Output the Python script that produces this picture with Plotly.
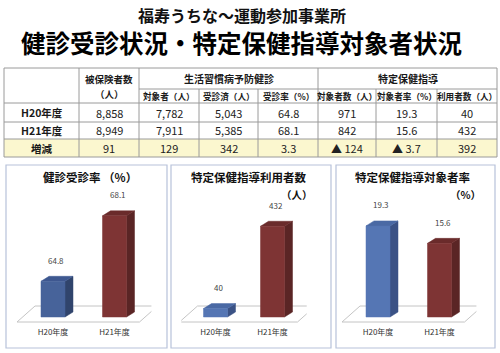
import plotly.graph_objects as go

# ---------------- data ----------------
main_title_1 = "福寿うちな～運動参加事業所"
main_title_2 = "健診受診状況・特定保健指導対象者状況"

row_labels = ["H20年度", "H21年度", "増減"]
insured = ["8,858", "8,949", "91"]
lifestyle_target = ["7,782", "7,911", "129"]
lifestyle_exam = ["5,043", "5,385", "342"]
lifestyle_rate = ["64.8", "68.1", "3.3"]
guidance_target = ["971", "842", "▲ 124"]
guidance_rate = ["19.3", "15.6", "▲ 3.7"]
guidance_users = ["40", "432", "392"]

group_headers = ["生活習慣病予防健診", "特定保健指導"]
sub_headers = ["対象者（人）", "受診済（人）", "受診率（%）",
               "対象者数（人）", "対象者率（%）", "利用者数（人）"]

categories = ["H20年度", "H21年度"]
exam_rate = [64.8, 68.1]
users_count = [40, 432]
target_rate = [19.3, 15.6]

chart_titles = ["健診受診率 （%）", "特定保健指導利用者数", "特定保健指導対象者率"]
chart_units = ["", "（人）", "（%）"]

# ---------------- helpers ----------------
W, H = 500, 353
FONT = "Noto Sans CJK JP"


def px(x):
    return x / W


def py(y):
    return 1 - y / H


fig = go.Figure()
shapes = []
ann = []


def text(x, y, s, size, bold=False, color="#1a1a1a", xanchor="center"):
    ann.append(dict(x=px(x), y=py(y), xref="paper", yref="paper",
                    text=f"<b>{s}</b>" if bold else s, showarrow=False,
                    xanchor=xanchor, yanchor="middle",
                    font=dict(family=FONT, size=size, color=color)))


# ---------------- main titles ----------------
text(242, 15, main_title_1, 16, bold=True, color="#111")
text(241, 42, main_title_2, 24.5, bold=True, color="#000")

# ---------------- table ----------------
cols = [4, 79, 139, 199, 258, 318, 376, 437, 497]
top, sub, hdr_bot, r1, r2, bot = 68, 89, 103, 122, 139, 157
line_c = "#9a9a9a"

shapes.append(dict(type="rect", xref="paper", yref="paper", layer="below",
                   x0=px(cols[0]), x1=px(cols[-1]), y0=py(r2), y1=py(bot),
                   fillcolor="#fbf7cf", line=dict(width=0)))


def hline(y, x0, x1):
    shapes.append(dict(type="line", xref="paper", yref="paper",
                       x0=px(x0), x1=px(x1), y0=py(y), y1=py(y),
                       line=dict(color=line_c, width=1)))


def vline(x, y0, y1):
    shapes.append(dict(type="line", xref="paper", yref="paper",
                       x0=px(x), x1=px(x), y0=py(y0), y1=py(y1),
                       line=dict(color=line_c, width=1)))


for y in [top, hdr_bot, r1, r2, bot]:
    hline(y, cols[0], cols[-1])
hline(sub, cols[2], cols[-1])
for x in [cols[0], cols[1], cols[2], cols[5], cols[-1]]:
    vline(x, top, bot)
for x in [cols[3], cols[4], cols[6], cols[7]]:
    vline(x, sub, bot)

centers = [(cols[i] + cols[i + 1]) / 2 for i in range(8)]
text(centers[1], 79, "被保険者数", 9.5, bold=True)
text(centers[1], 94, "（人）", 9.5, bold=True)
text((cols[2] + cols[5]) / 2, 78, group_headers[0], 10, bold=True)
text((cols[5] + cols[8]) / 2, 78, group_headers[1], 10, bold=True)
for i, s in enumerate(sub_headers):
    text(centers[i + 2], 96, s, 8.6, bold=True)

row_y = [112.5, 130.5, 148]
columns = [insured, lifestyle_target, lifestyle_exam, lifestyle_rate,
           guidance_target, guidance_rate, guidance_users]
for r, lab in enumerate(row_labels):
    text(centers[0], row_y[r], lab, 10.5, bold=True)
    for c, colvals in enumerate(columns):
        text(centers[c + 1], row_y[r], colvals[r], 11, color="#222")

# ---------------- chart panels ----------------
panels = [(6, 167), (171, 331), (336, 495)]
for x0, x1 in panels:
    shapes.append(dict(type="rect", xref="paper", yref="paper",
                       x0=px(x0), x1=px(x1), y0=py(165), y1=py(348),
                       line=dict(color="#b7c2da", width=1.2),
                       fillcolor="rgba(0,0,0,0)"))

text(90, 177, f"{chart_titles[0]}", 11.5, bold=True, color="#111")
text(248, 177, chart_titles[1], 11.5, bold=True, color="#111")
text(297, 194, chart_units[1], 10.5, bold=True, color="#111")
text(412, 177, chart_titles[2], 11.5, bold=True, color="#111")
text(465, 194, chart_units[2], 10.5, bold=True, color="#111")

blue1 = ("#47639a", "#30446c", "#3e5890")
blue2 = ("#5576b4", "#3b5285", "#4a69a4")
red = ("#7e3434", "#5a2525", "#6a2b2b")

charts = [
    dict(vals=exam_rate, lo=63, hi=69, hipx=198, c=(53, 114.5), blue=blue1),
    dict(vals=users_count, lo=0, hi=500, hipx=212, c=(215.5, 272.5), blue=blue2),
    dict(vals=target_rate, lo=0, hi=25, hipx=199, c=(378, 439.5), blue=blue2),
]

DOM_TOP, DOM_BOT, BASE_PX = 185, 326, 317
layout_axes = {}
for i, ch in enumerate(charts):
    n = "" if i == 0 else str(i + 1)
    c0, c1 = ch["c"]
    u = c1 - c0
    s = (BASE_PX - ch["hipx"]) / (ch["hi"] - ch["lo"])
    lo = ch["lo"]
    yr = [lo - (DOM_BOT - BASE_PX) / s, lo + (BASE_PX - DOM_TOP) / s]
    layout_axes["xaxis" + n] = dict(
        domain=[px(c0 - 0.6 * u), px(c1 + 0.6 * u)], range=[-0.6, 1.6],
        anchor="y" + n, tickvals=[0, 1], ticktext=categories,
        tickfont=dict(family=FONT, size=8, color="#333"),
        showgrid=False, zeroline=False, showline=False, ticks="",
        fixedrange=True)
    layout_axes["yaxis" + n] = dict(
        domain=[py(DOM_BOT), py(DOM_TOP)], range=yr, anchor="x" + n,
        visible=False, fixedrange=True)
    xa, ya = "x" + n, "y" + n

    # floor
    fy0 = lo - 5 / s
    fy1 = lo + 11 / s
    fx = [-36 / u, 1 + 25 / u, 1 + 43 / u, -18 / u, -36 / u]
    fig.add_trace(go.Scatter(x=fx, y=[fy0, fy0, fy1, fy1, fy0], xaxis=xa, yaxis=ya,
                             mode="lines", fill="toself", fillcolor="white",
                             line=dict(color="#c4c4c4", width=1),
                             hoverinfo="skip", showlegend=False))
    w = 12 / u
    ddx = 8 / u
    ddy = 5 / s
    for k, v in enumerate(ch["vals"]):
        front, side, topc = ch["blue"] if k == 0 else red
        xs_side = [k + w, k + w + ddx, k + w + ddx, k + w, k + w]
        ys_side = [lo, lo + ddy, v + ddy, v, lo]
        xs_top = [k - w, k - w + ddx, k + w + ddx, k + w, k - w]
        ys_top = [v, v + ddy, v + ddy, v, v]
        xs_f = [k - w, k + w, k + w, k - w, k - w]
        ys_f = [lo, lo, v, v, lo]
        for xs, ys, col in [(xs_side, ys_side, side), (xs_top, ys_top, topc),
                            (xs_f, ys_f, front)]:
            fig.add_trace(go.Scatter(x=xs, y=ys, xaxis=xa, yaxis=ya, mode="lines",
                                     fill="toself", fillcolor=col,
                                     line=dict(color=col, width=0.5),
                                     hoverinfo="skip", showlegend=False))
        ann.append(dict(x=k, y=v, xref=xa, yref=ya, text=f"{v:g}", showarrow=False,
                        xshift=3, yshift=21, xanchor="center", yanchor="middle",
                        font=dict(family=FONT, size=8, color="#444")))

fig.update_layout(
    width=W, height=H, margin=dict(l=0, r=0, t=0, b=0),
    paper_bgcolor="white", plot_bgcolor="rgba(0,0,0,0)",
    shapes=shapes, annotations=ann, showlegend=False,
    font=dict(family=FONT),
    **layout_axes,
)

fig.write_html("out.html")
